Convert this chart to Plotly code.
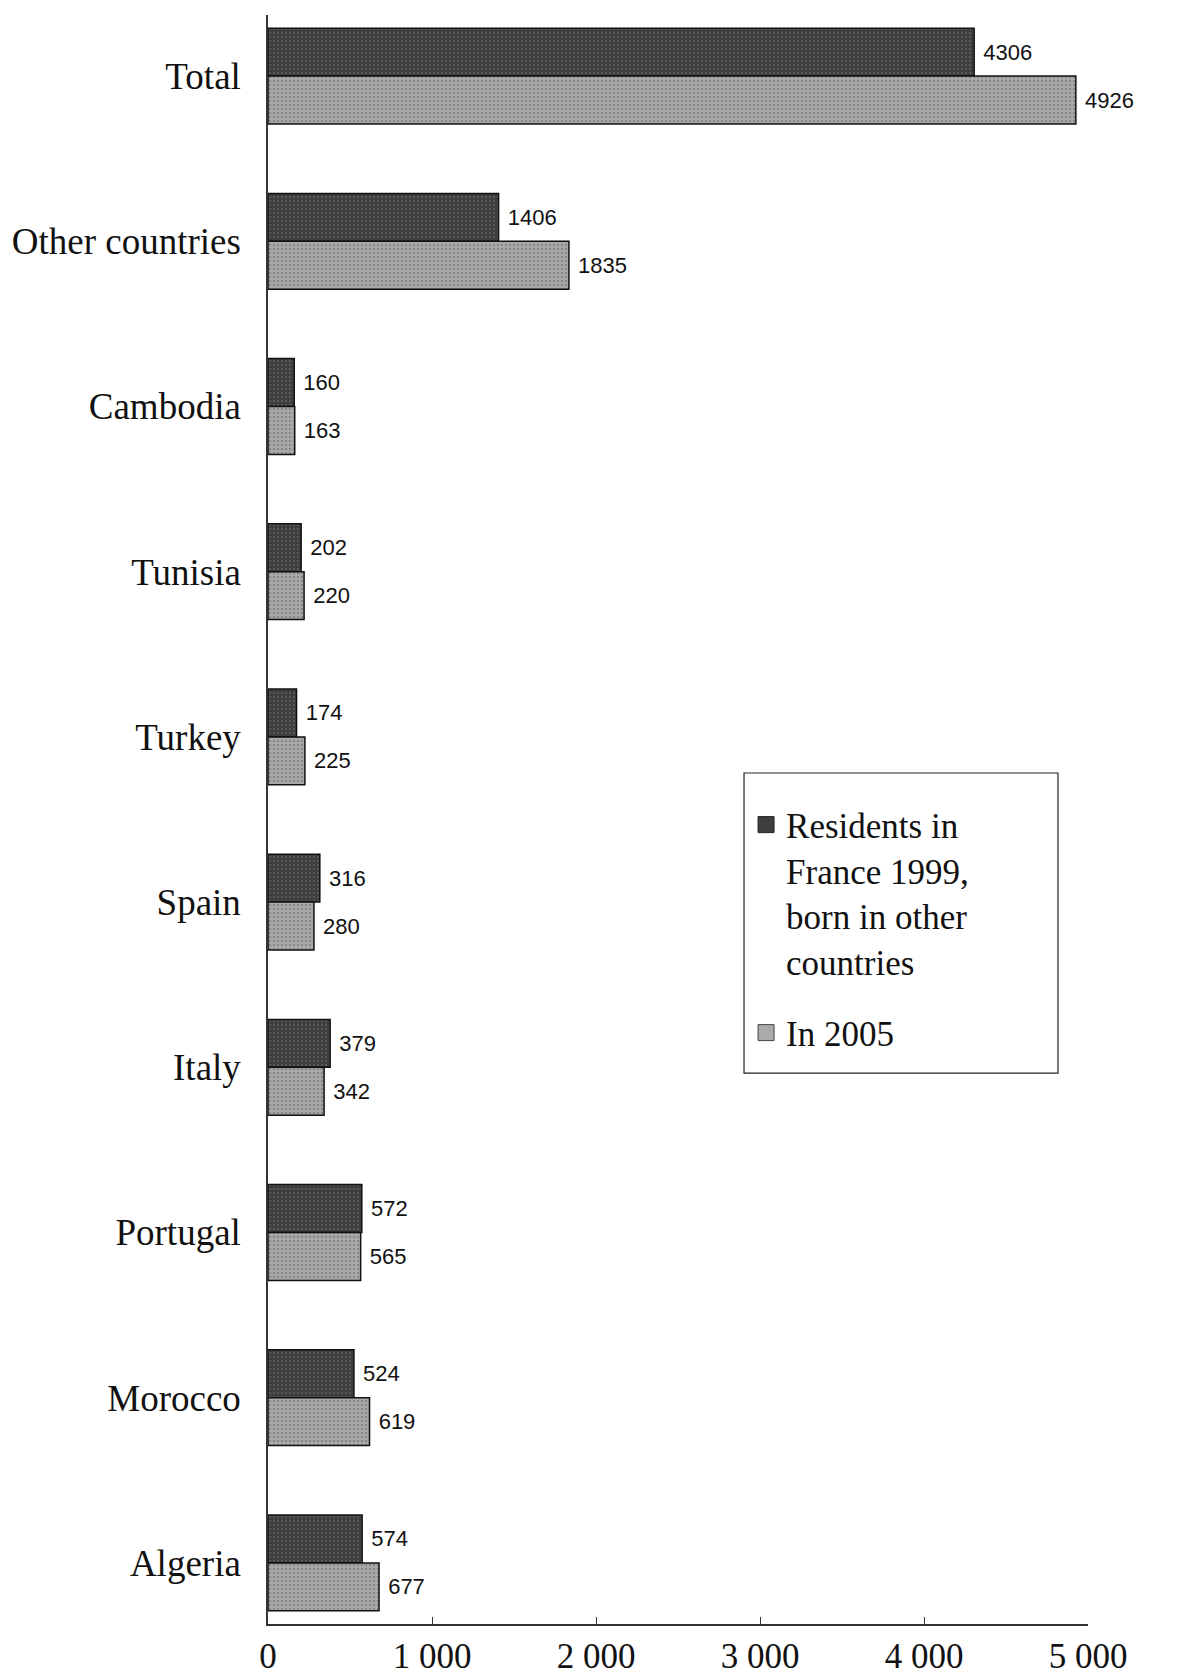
import plotly.graph_objects as go

categories = ["Total", "Other countries", "Cambodia", "Tunisia", "Turkey",
              "Spain", "Italy", "Portugal", "Morocco", "Algeria"]
residents_1999 = [4306, 1406, 160, 202, 174, 316, 379, 572, 524, 574]
in_2005 = [4926, 1835, 163, 220, 225, 280, 342, 565, 619, 677]
series_names = ["Residents in<br>France 1999,<br>born in other<br>countries", "In 2005"]
tick_vals = [0, 1000, 2000, 3000, 4000, 5000]
tick_text = ["0", "1 000", "2 000", "3 000", "4 000", "5 000"]

serif = "Liberation Serif, Times New Roman, serif"
sans = "Liberation Sans, Arial, sans-serif"

dark = "#3d3d3d"
light = "#aaaaaa"

fig = go.Figure()
fig.add_trace(go.Bar(
    y=categories, x=residents_1999, orientation="h", name=series_names[0],
    showlegend=False,
    marker=dict(color=dark, line=dict(color="#111", width=1.5),
                pattern=dict(shape=".", fgcolor="#777777", size=4, solidity=0.25)),
    text=["\u00a0" + str(v) for v in residents_1999], textposition="outside",
    textfont=dict(family=sans, size=22, color="#111"), cliponaxis=False,
))
fig.add_trace(go.Bar(
    y=categories, x=in_2005, orientation="h", name=series_names[1],
    showlegend=False,
    marker=dict(color=light, line=dict(color="#111", width=1.5),
                pattern=dict(shape=".", fgcolor="#666666", size=4, solidity=0.3)),
    text=["\u00a0" + str(v) for v in in_2005], textposition="outside",
    textfont=dict(family=sans, size=22, color="#111"), cliponaxis=False,
))
# legend entries (square swatches)
fig.add_trace(go.Scatter(
    x=[None], y=[None], mode="markers", name=series_names[0], legendgroup="a",
    marker=dict(symbol="square", size=16, color=dark, line=dict(color="#222", width=1)),
))
fig.add_trace(go.Scatter(
    x=[None], y=[None], mode="markers", name=series_names[1], legendgroup="b",
    marker=dict(symbol="square", size=16, color=light, line=dict(color="#444", width=1)),
))

fig.update_layout(
    width=1187, height=1671,
    margin=dict(l=260, r=107, t=7, b=55),
    paper_bgcolor="white", plot_bgcolor="white",
    barmode="group", bargap=0.42, bargroupgap=0,
    font=dict(family=serif, color="#111"),
    showlegend=True,
    legend=dict(
        x=0.583, y=0.515, xanchor="left", yanchor="top",
        bgcolor="rgba(0,0,0,0)", borderwidth=0,
        font=dict(family=serif, size=35, color="#111"),
        traceorder="grouped", tracegroupgap=23, valign="top",
        itemwidth=30,
    ),
    shapes=[dict(type="rect", xref="paper", yref="paper",
                 x0=0.5805, x1=0.9634, y0=0.3424, y1=0.5289,
                 line=dict(color="#222", width=1.2), fillcolor="rgba(0,0,0,0)",
                 layer="below")],
    xaxis=dict(
        range=[0, 5000], tickvals=tick_vals, ticktext=tick_text,
        showline=True, linecolor="#333", linewidth=1.5,
        ticks="inside", ticklen=7, tickcolor="#333",
        showgrid=False, zeroline=False, automargin=False,
        tickfont=dict(family=serif, size=35, color="#111"),
    ),
    yaxis=dict(
        range=[9.37, -0.37], showline=True, linecolor="#333", linewidth=1.5,
        ticks="", showgrid=False, zeroline=False, ticklabelstandoff=18,
        automargin=False,
        tickfont=dict(family=serif, size=37, color="#111"),
    ),
)

fig.write_html("out.html")
